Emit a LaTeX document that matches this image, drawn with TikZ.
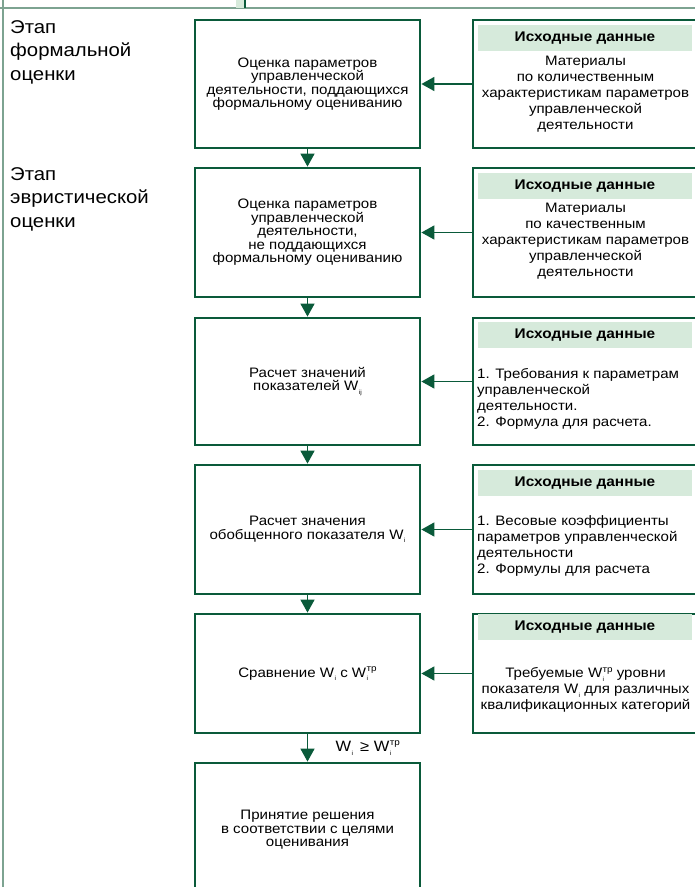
\documentclass[tikz,border=0pt]{standalone}
\usepackage{fontspec}
\setmainfont{Liberation Sans}[FakeStretch=1.1]
\usetikzlibrary{arrows.meta,positioning}
\tikzset{every node/.append style={align=center}}
\definecolor{framegreen}{RGB}{10,90,58}
\definecolor{headgreen}{RGB}{214,234,219}
\definecolor{rulegreen}{RGB}{125,163,145}
\newcommand{\wsub}[1]{W\kern.4pt\raisebox{-.5ex}{\fontsize{6}{6}\selectfont #1}}
\newcommand{\wtr}{W\kern.4pt\rlap{\raisebox{-.5ex}{\fontsize{6}{6}\selectfont i}}\raisebox{.8ex}{\fontsize{9}{9}\selectfont тр}}

\begin{document}
\begin{tikzpicture}[
    x=1pt, y=-1pt,
    stepbox/.style={draw=framegreen, line width=2.8pt, minimum width=225pt, inner sep=0pt, font=\fontsize{13.7}{13.5}\selectfont},
    databox/.style={draw=framegreen, line width=2.8pt, minimum width=225pt, inner sep=0pt},
    head/.style={fill=headgreen, minimum width=214pt, minimum height=26pt, inner sep=0pt, font=\bfseries\fontsize{14}{14}\selectfont},
    datatext/.style={inner sep=0pt, font=\fontsize{13.7}{16}\selectfont},
    stage/.style={anchor=north west, align=left, inner sep=0pt, font=\fontsize{18.5}{23.5}\selectfont},
    arrow/.style={-{Triangle[length=13pt,width=14pt]}, line width=1.6pt, draw=framegreen}
]
    \clip (0,0) rectangle (695,887);

    % Frame
    \draw[rulegreen, line width=2pt] (0,8) -- (695,8);
    \draw[rulegreen, line width=1.2pt] (3,0) -- (3,887);
    \fill[headgreen] (236,0) rectangle (245,8);
    \draw[framegreen, line width=2pt] (245,0) -- (245,8);

    % Stages
    \node[stage] (formal) at (10,20) {Этап\\формальной\\оценки};
    \node[stage] (heur) at (10,167) {Этап\\эвристической\\оценки};

    % Steps
    \node[stepbox, minimum height=128pt] (eval1) at (307.5,84) {Оценка параметров\\управленческой\\деятельности, поддающихся\\формальному оцениванию};
    \node[stepbox, minimum height=129pt] (eval2) at (307.5,232.5) {Оценка параметров\\управленческой\\деятельности,\\не поддающихся\\формальному оцениванию};
    \node[stepbox, minimum height=127pt] (calc1) at (307.5,381.5) {Расчет значений\\показателей \wsub{ij}};
    \node[stepbox, minimum height=129pt] (calc2) at (307.5,529.5) {Расчет значения\\обобщенного показателя \wsub{i}};
    \node[stepbox, minimum height=119pt] (compare) at (307.5,673.5) {Сравнение \wsub{i} с \wtr};
    \node[stepbox, minimum height=134pt] (decide) at (307.5,830) {Принятие решения\\в соответствии с целями\\оценивания};

    % Source data
    \node[databox, minimum height=128pt] (src1) at (585.5,84) {};
    \node[databox, minimum height=129pt] (src2) at (585.5,232.5) {};
    \node[databox, minimum height=127pt] (src3) at (585.5,381.5) {};
    \node[databox, minimum height=129pt] (src4) at (585.5,529.5) {};
    \node[databox, minimum height=119pt] (src5) at (585.5,673.5) {};

    \foreach \s/\y in {src1/38, src2/186, src3/335, src4/483, src5/627}
        \node[head] (\s-head) at (585,\y) {Исходные данные};

    \node[datatext] (src1-text) at (585.5,94) {Материалы\\по количественным\\характеристикам параметров\\управленческой\\деятельности};
    \node[datatext] (src2-text) at (585.5,241.5) {Материалы\\по качественным\\характеристикам параметров\\управленческой\\деятельности};
    \node[datatext, anchor=west, align=left] (src3-text) at (477,398.5) {1. Требования к параметрам\\управленческой\\деятельности.\\2. Формула для расчета.};
    \node[datatext, anchor=west, align=left] (src4-text) at (477,546) {1. Весовые коэффициенты\\параметров управленческой\\деятельности\\2. Формулы для расчета};
    \node[datatext] (src5-text) at (585.5,690) {Требуемые \wtr{} уровни\\показателя \wsub{i} для различных\\квалификационных категорий};

    % Arrows
    \draw[arrow] (eval1) -- (eval2);
    \draw[arrow] (eval2) -- (calc1);
    \draw[arrow] (calc1) -- (calc2);
    \draw[arrow] (calc2) -- (compare);
    \draw[arrow] (compare) -- (decide) node[midway, right=24pt, font=\fontsize{15}{15}\selectfont] {\wsub{i}\, ≥ \wtr};
    \foreach \s/\t in {src1/eval1, src2/eval2, src3/calc1, src4/calc2, src5/compare}
        \draw[arrow] (\s) -- (\t);

\end{tikzpicture}
\end{document}
